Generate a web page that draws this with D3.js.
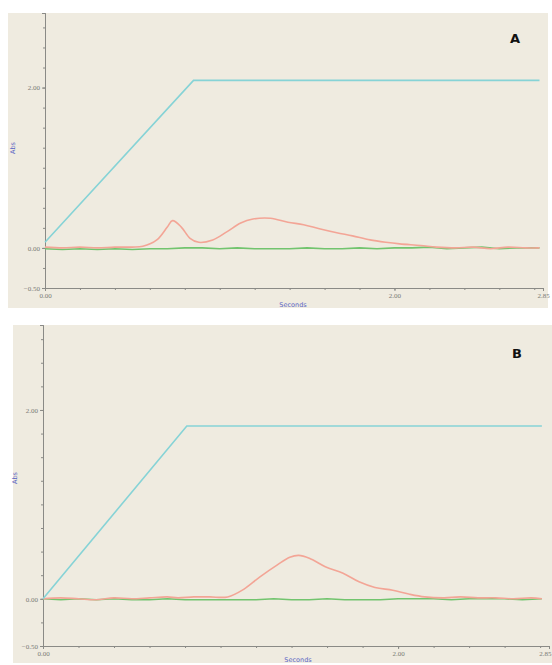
<!DOCTYPE html>
<html>
<head>
  <meta charset="utf-8">
  <script src="https://d3js.org/d3.v7.min.js"></script>
  <style>
    body { margin: 0px; background: #ffffff; }
    .tick text { fill: #7a7a76; font-size: 7px; font-family: "Liberation Serif", serif; }
    .domain, .tick line { stroke: #8a8a86; }
    .axis-label { fill: #5b66c4; font-size: 6.5px; font-family: "DejaVu Sans", sans-serif; }
    .panel-label { fill: #111; font-size: 13px; font-weight: bold; font-family: "DejaVu Sans", sans-serif; }
  </style>
</head>
<body>
  <svg width="552" height="665"></svg>
  <script>
    // tick labels
    const yTicks = [-0.5, 0, 2];
    const xTicks = [0, 2, 2.85];

    // panel A traces (seconds, absorbance)
    const cyanTimeA = [0, 0.85, 2.83];
    const cyanA = [0.07, 2.09, 2.09];

    const redTimeA = [0, 0.1, 0.2, 0.3, 0.4, 0.5, 0.56, 0.64, 0.70, 0.73, 0.78, 0.83, 0.88, 0.96,
      1.04, 1.12, 1.19, 1.29, 1.39, 1.48, 1.57, 1.67, 1.76, 1.86, 1.95, 2.03, 2.15, 2.24, 2.35,
      2.45, 2.55, 2.65, 2.75, 2.83];
    const redA = [0.01, 0.0, 0.01, 0.0, 0.01, 0.01, 0.02, 0.1, 0.26, 0.34, 0.26, 0.12, 0.07, 0.1,
      0.2, 0.31, 0.36, 0.37, 0.32, 0.29, 0.24, 0.19, 0.15, 0.1, 0.07, 0.05, 0.03, 0.01, 0.0,
      0.01, -0.01, 0.01, 0.0, 0.0];

    const greenTimeA = [0, 0.1, 0.2, 0.3, 0.4, 0.5, 0.6, 0.7, 0.8, 0.9, 1.0, 1.1, 1.2, 1.3, 1.4,
      1.5, 1.6, 1.7, 1.8, 1.9, 2.0, 2.1, 2.2, 2.3, 2.4, 2.5, 2.6, 2.7, 2.83];
    const greenA = [-0.01, -0.02, -0.01, -0.02, -0.01, -0.02, -0.01, -0.01, 0.0, 0.0, -0.01, 0.0,
      -0.01, -0.01, -0.01, 0.0, -0.01, -0.01, 0.0, -0.01, 0.0, 0.0, 0.01, -0.01, 0.0, 0.01, -0.01,
      0.0, 0.0];

    // panel B traces
    const cyanTimeB = [0, 0.81, 2.81];
    const cyanB = [0.0, 1.83, 1.83];

    const redTimeB = [0, 0.1, 0.2, 0.3, 0.4, 0.5, 0.6, 0.7, 0.76, 0.85, 0.94, 1.04, 1.13, 1.22,
      1.32, 1.39, 1.44, 1.5, 1.59, 1.69, 1.78, 1.87, 1.97, 2.06, 2.15, 2.26, 2.35, 2.45, 2.55,
      2.65, 2.75, 2.81];
    const redB = [0.0, 0.01, 0.0, -0.01, 0.01, 0.0, 0.01, 0.02, 0.01, 0.02, 0.02, 0.02, 0.1, 0.23,
      0.36, 0.44, 0.46, 0.43, 0.34, 0.27, 0.18, 0.12, 0.09, 0.05, 0.02, 0.01, 0.02, 0.01, 0.01,
      0.0, 0.01, 0.0];

    const greenTimeB = [0, 0.1, 0.2, 0.3, 0.4, 0.5, 0.6, 0.7, 0.8, 0.9, 1.0, 1.1, 1.2, 1.3, 1.4,
      1.5, 1.6, 1.7, 1.8, 1.9, 2.0, 2.1, 2.2, 2.3, 2.4, 2.5, 2.6, 2.7, 2.81];
    const greenB = [0.0, -0.01, 0.0, -0.01, 0.0, -0.01, -0.01, 0.0, -0.01, -0.01, -0.01, -0.01,
      -0.01, 0.0, -0.01, -0.01, 0.0, -0.01, -0.01, -0.01, 0.0, 0.0, 0.0, -0.01, 0.0, 0.0, 0.0,
      -0.01, 0.0];

    const svg = d3.select('svg');

    const panels = [
      { label: 'A', bg: [8, 13, 540, 295], x: [45, 543], y: [288, 13], yTop: 2.93,
        labelPos: [510, 43], absPos: [15, 148], secPos: [293, 307],
        traces: [[greenTimeA, greenA, '#72c46e', false], [redTimeA, redA, '#f3a596', true], [cyanTimeA, cyanA, '#86d3d6', false]] },
      { label: 'B', bg: [13, 325, 539, 338], x: [43, 549], y: [646, 325], yTop: 2.9,
        labelPos: [512, 358], absPos: [17, 478], secPos: [298, 662],
        traces: [[greenTimeB, greenB, '#72c46e', false], [redTimeB, redB, '#f3a596', true], [cyanTimeB, cyanB, '#86d3d6', false]] }
    ];

    panels.forEach(p => {
      const g = svg.append('g');
      g.append('rect')
        .attr('x', p.bg[0]).attr('y', p.bg[1])
        .attr('width', p.bg[2]).attr('height', p.bg[3])
        .attr('fill', '#efebe0');

      const xScale = d3.scaleLinear().domain([0, 2.85]).range(p.x);
      const yScale = d3.scaleLinear().domain([-0.5, p.yTop]).range(p.y);

      // minor ticks
      g.append('g')
        .attr('transform', `translate(0,${p.y[0]})`)
        .call(d3.axisBottom(xScale).tickValues(d3.range(0, 2.85, 0.2)).tickSize(2).tickFormat(''));
      g.append('g')
        .attr('transform', `translate(${p.x[0]},0)`)
        .call(d3.axisLeft(yScale).tickValues(d3.range(-0.5, p.yTop, 0.25)).tickSize(2).tickFormat(''));

      const xAxisG = g.append('g')
        .attr('transform', `translate(0,${p.y[0]})`)
        .call(d3.axisBottom(xScale).tickValues(xTicks).tickSizeOuter(0).tickSize(3)
          .tickPadding(2).tickFormat(d3.format('.2f')));
      // keep the last label inside the window
      xAxisG.selectAll('.tick text')
        .filter(d => d === 2.85 && xScale(d) > 545)
        .attr('text-anchor', 'end')
        .attr('dx', '2px');

      g.append('g')
        .attr('transform', `translate(${p.x[0]},0)`)
        .call(d3.axisLeft(yScale).tickValues(yTicks).tickSizeOuter(0).tickSize(3)
          .tickPadding(2).tickFormat(d3.format('.2f')));

      p.traces.forEach(([t, v, color, smooth]) => {
        const line = d3.line()
          .x(d => xScale(d[0]))
          .y(d => yScale(d[1]))
          .curve(smooth ? d3.curveCatmullRom : d3.curveLinear);
        g.append('path')
          .datum(t.map((tt, i) => [tt, v[i]]))
          .attr('fill', 'none')
          .attr('stroke', color)
          .attr('stroke-width', 1.6)
          .attr('d', line);
      });

      g.append('text')
        .attr('class', 'axis-label')
        .attr('transform', `translate(${p.absPos[0]},${p.absPos[1]}) rotate(-90)`)
        .attr('text-anchor', 'middle')
        .text('Abs');

      g.append('text')
        .attr('class', 'axis-label')
        .attr('x', p.secPos[0]).attr('y', p.secPos[1])
        .attr('text-anchor', 'middle')
        .text('Seconds');

      g.append('text')
        .attr('class', 'panel-label')
        .attr('x', p.labelPos[0]).attr('y', p.labelPos[1])
        .text(p.label);
    });
  </script>
</body>
</html>
